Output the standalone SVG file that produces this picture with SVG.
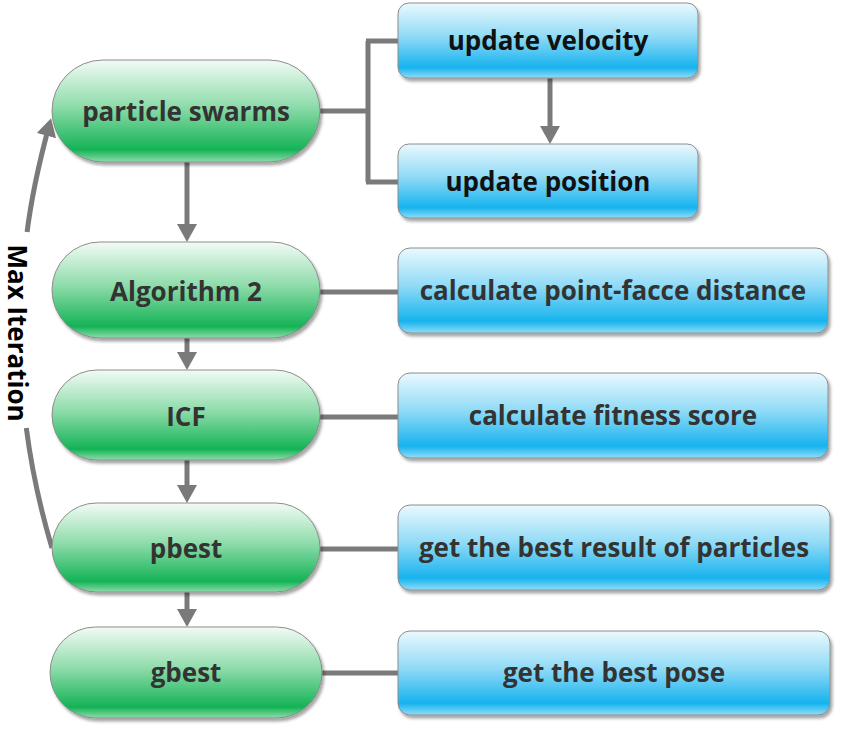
<svg xmlns="http://www.w3.org/2000/svg" width="851" height="751" viewBox="0 0 851 751">
<defs>
<linearGradient id="gGreen" x1="0" y1="0" x2="0" y2="1">
<stop offset="0" stop-color="#f2fbf5"/>
<stop offset="0.45" stop-color="#8fdcab"/>
<stop offset="0.88" stop-color="#14b356"/>
<stop offset="1" stop-color="#8fdcab"/>
</linearGradient>
<linearGradient id="gBlue" x1="0" y1="0" x2="0" y2="1">
<stop offset="0" stop-color="#eaf9fe"/>
<stop offset="0.45" stop-color="#8fdaf6"/>
<stop offset="0.86" stop-color="#16b3ee"/>
<stop offset="1" stop-color="#92dcf7"/>
</linearGradient>
<filter id="sh" x="-10%" y="-10%" width="125%" height="135%">
<feDropShadow dx="2" dy="3" stdDeviation="1.5" flood-color="#000" flood-opacity="0.35"/>
</filter>
<marker id="ah" viewBox="0 0 18 20" refX="10" refY="10" markerWidth="18" markerHeight="20" markerUnits="userSpaceOnUse" orient="auto">
<path d="M0,0 L18,10 L0,20 z" fill="#7a7a7a"/>
</marker>
</defs>
<style>
.pill{fill:url(#gGreen);stroke:#8c8c8c;stroke-width:1;filter:url(#sh)}
.box{fill:url(#gBlue);stroke:#8c8c8c;stroke-width:1;filter:url(#sh)}
.t{font-family:"Open Sans","Noto Sans","Liberation Sans",sans-serif;font-weight:bold;font-size:26px;text-anchor:middle;fill:#333}
.tk{fill:#111}
.c{fill:none;stroke:#7a7a7a;stroke-width:5}
.ca{fill:none;stroke:#7a7a7a;stroke-width:5;marker-end:url(#ah)}
</style>
<rect width="851" height="751" fill="#fff"/>
<g id="connectors">
<path class="c" d="M320,111 H368 M368,41 V182 M366,41 H398 M366,182 H398"/>
<path class="ca" d="M550,78 V136"/>
<path class="ca" d="M187,162 V234"/>
<path class="ca" d="M187,338 V362"/>
<path class="ca" d="M187,460 V495"/>
<path class="ca" d="M187,592 V619"/>
<path class="c" d="M320,292 H398"/>
<path class="c" d="M320,417 H398"/>
<path class="c" d="M320,549 H398"/>
<path class="c" d="M322,673 H398"/>
<path class="c" d="M52,548 Q34.1,488 26.3,428"/>
<path class="ca" d="M27.1,232 Q33,185 49,126"/>
</g>
<g id="label-max-iteration">
<text class="t" style="fill:#000" transform="translate(8,333) rotate(90)" x="0" y="0">Max Iteration</text>
</g>
<g id="node-particle-swarms">
<rect class="pill" x="52" y="60" width="268" height="102" rx="51"/>
<text class="t" x="186" y="121">particle swarms</text>
</g>
<g id="node-algorithm2">
<rect class="pill" x="52" y="242" width="268" height="96" rx="48"/>
<text class="t" x="186" y="301">Algorithm 2</text>
</g>
<g id="node-icf">
<rect class="pill" x="52" y="370" width="268" height="90" rx="45"/>
<text class="t" x="186" y="426">ICF</text>
</g>
<g id="node-pbest">
<rect class="pill" x="52" y="503" width="268" height="89" rx="44.5"/>
<text class="t" x="186" y="558">pbest</text>
</g>
<g id="node-gbest">
<rect class="pill" x="50" y="627" width="272" height="91" rx="45.5"/>
<text class="t" x="186" y="682">gbest</text>
</g>
<g id="node-update-velocity">
<rect class="box" x="398" y="3" width="300" height="75" rx="11"/>
<text class="t tk" x="548" y="50">update velocity</text>
</g>
<g id="node-update-position">
<rect class="box" x="398" y="144" width="300" height="74" rx="11"/>
<text class="t tk" x="548" y="191">update position</text>
</g>
<g id="node-point-face">
<rect class="box" x="398" y="248" width="430" height="85" rx="12"/>
<text class="t" x="613" y="300">calculate point-facce distance</text>
</g>
<g id="node-fitness">
<rect class="box" x="398" y="373" width="430" height="85" rx="12"/>
<text class="t" x="613" y="425">calculate fitness score</text>
</g>
<g id="node-best-result">
<rect class="box" x="398" y="505" width="432" height="85" rx="12"/>
<text class="t" x="614" y="557">get the best result of particles</text>
</g>
<g id="node-best-pose">
<rect class="box" x="398" y="631" width="432" height="84" rx="12"/>
<text class="t" x="614" y="682">get the best pose</text>
</g>
</svg>
